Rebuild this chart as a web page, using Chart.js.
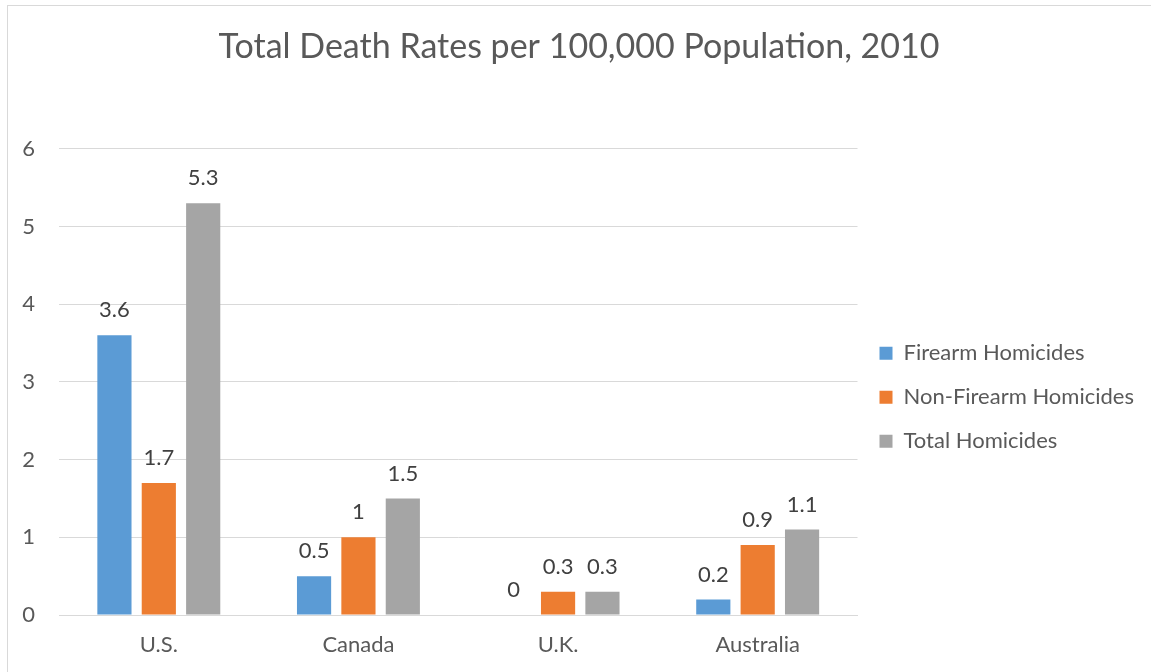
<!DOCTYPE html>
<html>
<head>
<meta charset="utf-8">
<script src="https://cdn.jsdelivr.net/npm/chart.js@4.4.1/dist/chart.umd.min.js"></script>
<style>
  html, body { margin: 0; padding: 0; background: #fff; overflow: hidden; }
  #frame { position: absolute; left: 7px; top: 5px; width: 1160px; height: 700px; border: 1px solid #d9d9d9; }
  #wrap { position: absolute; left: 0; top: 0; width: 1151px; height: 672px; }
</style>
</head>
<body>
<div id="frame"></div>
<div id="wrap"><canvas id="myBarChart"></canvas></div>
<script>
// Data
var countries = ['U.S.', 'Canada', 'U.K.', 'Australia'];
var firearm = [3.6, 0.5, 0, 0.2];
var nonFirearm = [1.7, 1, 0.3, 0.9];
var total = [5.3, 1.5, 0.3, 1.1];
var yTicks = [0, 1, 2, 3, 4, 5, 6];

var textColor = '#595959';
var fontFamily = 'Lato, "Open Sans", sans-serif';

// draws the value above each bar
var valueLabels = {
    id: 'valueLabels',
    afterDatasetsDraw: function (chart) {
        var ctx = chart.ctx;
        ctx.save();
        ctx.font = '22px ' + fontFamily;
        ctx.fillStyle = '#404040';
        ctx.textAlign = 'center';
        ctx.textBaseline = 'middle';
        chart.data.datasets.forEach(function (ds, i) {
            chart.getDatasetMeta(i).data.forEach(function (bar, j) {
                ctx.fillText(String(ds.data[j]), bar.x, bar.y - 25);
            });
        });
        ctx.restore();
    }
};

var ctx = document.getElementById('myBarChart').getContext('2d');
var myBarChart = new Chart(ctx, {
    type: 'bar',
    data: {
        labels: countries,
        datasets: [
            { label: 'Firearm Homicides', backgroundColor: '#5B9BD5', data: firearm },
            { label: 'Non-Firearm Homicides', backgroundColor: '#ED7D31', data: nonFirearm },
            { label: 'Total Homicides', backgroundColor: '#A5A5A5', data: total }
        ]
    },
    plugins: [valueLabels],
    options: {
        responsive: true,
        maintainAspectRatio: false,
        animation: false,
        categoryPercentage: 0.667,
        barPercentage: 0.77,
        layout: { padding: { left: 22, right: 15, top: 0, bottom: 0 } },
        plugins: {
            title: {
                display: true,
                text: 'Total Death Rates per 100,000 Population, 2010',
                color: textColor,
                font: { family: fontFamily, size: 34, weight: 'normal' },
                padding: { top: 27, bottom: 81 }
            },
            legend: {
                position: 'right',
                align: 'center',
                title: {
                    display: true,
                    text: ' ',
                    font: { size: 12 },
                    padding: { top: 108, bottom: 0 }
                },
                labels: {
                    boxWidth: 13,
                    boxHeight: 13,
                    padding: 22,
                    color: textColor,
                    font: { family: fontFamily, size: 22 }
                }
            },
            tooltip: { enabled: false }
        },
        scales: {
            x: {
                afterFit: function (axis) { axis.height = 57; },
                grid: { display: false, drawTicks: false },
                border: { color: '#d9d9d9' },
                ticks: { color: textColor, font: { family: fontFamily, size: 22 }, padding: 17 }
            },
            y: {
                min: 0,
                max: 6,
                afterFit: function (axis) { axis.width = 37; },
                afterBuildTicks: function (axis) {
                    axis.ticks = yTicks.map(function (v) { return { value: v }; });
                },
                grid: { color: '#d9d9d9', drawTicks: false },
                border: { display: false },
                ticks: { color: textColor, font: { family: fontFamily, size: 22 }, padding: 24 }
            }
        }
    }
});
</script>
</body>
</html>
